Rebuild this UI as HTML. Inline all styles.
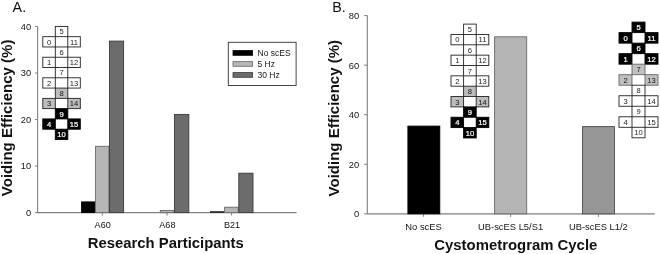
<!DOCTYPE html>
<html><head><meta charset="utf-8"><title>Voiding Efficiency</title>
<style>
html,body{margin:0;padding:0;background:#fff;}
body{width:660px;height:254px;overflow:hidden;}
svg{display:block;font-family:"Liberation Sans",Arial,sans-serif;}
</style></head><body>
<svg width="660" height="254" viewBox="0 0 660 254">
<rect width="660" height="254" fill="#fff"/>
<path d="M37.6 26.5 V212.6 H296.6" fill="none" stroke="#808080" stroke-width="1.1"/>
<path d="M35.0 212.60 H37.6" stroke="#808080" stroke-width="1"/>
<text x="31.2" y="215.90" font-size="9.3" text-anchor="end" fill="#151515">0</text>
<path d="M35.0 166.07 H37.6" stroke="#808080" stroke-width="1"/>
<text x="31.2" y="169.38" font-size="9.3" text-anchor="end" fill="#151515">10</text>
<path d="M35.0 119.55 H37.6" stroke="#808080" stroke-width="1"/>
<text x="31.2" y="122.85" font-size="9.3" text-anchor="end" fill="#151515">20</text>
<path d="M35.0 73.03 H37.6" stroke="#808080" stroke-width="1"/>
<text x="31.2" y="76.33" font-size="9.3" text-anchor="end" fill="#151515">30</text>
<path d="M35.0 26.50 H37.6" stroke="#808080" stroke-width="1"/>
<text x="31.2" y="29.80" font-size="9.3" text-anchor="end" fill="#151515">40</text>
<path d="M102.3 212.6 V215.6" stroke="#808080" stroke-width="1"/>
<text x="102.7" y="228" font-size="9.1" text-anchor="middle" fill="#111">A60</text>
<path d="M167.0 212.6 V215.6" stroke="#808080" stroke-width="1"/>
<text x="167.4" y="228" font-size="9.1" text-anchor="middle" fill="#111">A68</text>
<path d="M231.6 212.6 V215.6" stroke="#808080" stroke-width="1"/>
<text x="232.0" y="228" font-size="9.1" text-anchor="middle" fill="#111">B21</text>
<rect x="81.60" y="201.90" width="13.30" height="10.70" fill="#000" stroke="#000" stroke-width="0.9"/>
<rect x="95.50" y="146.30" width="13.40" height="66.30" fill="#b6b6b6" stroke="#6a6a6a" stroke-width="0.9"/>
<rect x="109.50" y="41.10" width="14.10" height="171.50" fill="#6c6c6c" stroke="#3a3a3a" stroke-width="0.9"/>
<rect x="160.30" y="210.50" width="13.60" height="2.10" fill="#b6b6b6" stroke="#6a6a6a" stroke-width="0.9"/>
<rect x="174.50" y="114.40" width="14.30" height="98.20" fill="#6c6c6c" stroke="#3a3a3a" stroke-width="0.9"/>
<rect x="210.0" y="211.3" width="14.3" height="1.3" fill="#000"/>
<rect x="224.60" y="207.20" width="13.60" height="5.40" fill="#b6b6b6" stroke="#6a6a6a" stroke-width="0.9"/>
<rect x="238.80" y="173.20" width="14.20" height="39.40" fill="#6c6c6c" stroke="#3a3a3a" stroke-width="0.9"/>
<rect x="55.30" y="26.40" width="12.50" height="10.28" fill="#fff" stroke="#222" stroke-width="0.9"/>
<rect x="42.80" y="36.68" width="12.50" height="10.28" fill="#fff" stroke="#222" stroke-width="0.9"/>
<rect x="67.80" y="36.68" width="12.50" height="10.28" fill="#fff" stroke="#222" stroke-width="0.9"/>
<rect x="55.30" y="46.96" width="12.50" height="10.28" fill="#fff" stroke="#222" stroke-width="0.9"/>
<rect x="42.80" y="57.24" width="12.50" height="10.28" fill="#fff" stroke="#222" stroke-width="0.9"/>
<rect x="67.80" y="57.24" width="12.50" height="10.28" fill="#fff" stroke="#222" stroke-width="0.9"/>
<rect x="55.30" y="67.52" width="12.50" height="10.28" fill="#fff" stroke="#222" stroke-width="0.9"/>
<rect x="42.80" y="77.80" width="12.50" height="10.28" fill="#fff" stroke="#222" stroke-width="0.9"/>
<rect x="67.80" y="77.80" width="12.50" height="10.28" fill="#fff" stroke="#222" stroke-width="0.9"/>
<rect x="55.30" y="88.08" width="12.50" height="10.28" fill="#bdbdbd" stroke="#222" stroke-width="0.9"/>
<rect x="42.80" y="98.36" width="12.50" height="10.28" fill="#bdbdbd" stroke="#222" stroke-width="0.9"/>
<rect x="67.80" y="98.36" width="12.50" height="10.28" fill="#bdbdbd" stroke="#222" stroke-width="0.9"/>
<rect x="55.30" y="108.64" width="12.50" height="10.28" fill="#000" stroke="#000" stroke-width="0.9"/>
<rect x="42.80" y="118.92" width="12.50" height="10.28" fill="#000" stroke="#000" stroke-width="0.9"/>
<rect x="67.80" y="118.92" width="12.50" height="10.28" fill="#000" stroke="#000" stroke-width="0.9"/>
<rect x="55.30" y="129.20" width="12.50" height="10.28" fill="#000" stroke="#000" stroke-width="0.9"/>
<text x="61.55" y="34.36" font-size="7.6" fill="#222" text-anchor="middle">5</text>
<text x="49.05" y="44.64" font-size="7.6" fill="#222" text-anchor="middle">0</text>
<text x="74.05" y="44.64" font-size="7.6" fill="#222" text-anchor="middle">11</text>
<text x="61.55" y="54.92" font-size="7.6" fill="#222" text-anchor="middle">6</text>
<text x="49.05" y="65.20" font-size="7.6" fill="#222" text-anchor="middle">1</text>
<text x="74.05" y="65.20" font-size="7.6" fill="#222" text-anchor="middle">12</text>
<text x="61.55" y="75.48" font-size="7.6" fill="#222" text-anchor="middle">7</text>
<text x="49.05" y="85.76" font-size="7.6" fill="#222" text-anchor="middle">2</text>
<text x="74.05" y="85.76" font-size="7.6" fill="#222" text-anchor="middle">13</text>
<text x="61.55" y="96.04" font-size="7.6" fill="#111" text-anchor="middle">8</text>
<text x="49.05" y="106.32" font-size="7.6" fill="#111" text-anchor="middle">3</text>
<text x="74.05" y="106.32" font-size="7.6" fill="#111" text-anchor="middle">14</text>
<text x="61.55" y="116.60" font-size="7.6" fill="#fff" stroke="#fff" stroke-width="0.22" text-anchor="middle">9</text>
<text x="49.05" y="126.88" font-size="7.6" fill="#fff" stroke="#fff" stroke-width="0.22" text-anchor="middle">4</text>
<text x="74.05" y="126.88" font-size="7.6" fill="#fff" stroke="#fff" stroke-width="0.22" text-anchor="middle">15</text>
<text x="61.55" y="137.16" font-size="7.6" fill="#fff" stroke="#fff" stroke-width="0.22" text-anchor="middle">10</text>
<rect x="228.3" y="42.3" width="67.8" height="43.2" fill="#fff" stroke="#333" stroke-width="0.9"/>
<rect x="233" y="50.60" width="19.6" height="4.7" fill="#000" stroke="#000" stroke-width="0.8"/>
<text x="257.5" y="56.10" font-size="8.5" fill="#151515">No scES</text>
<rect x="233" y="61.60" width="19.6" height="4.7" fill="#b6b6b6" stroke="#6a6a6a" stroke-width="0.8"/>
<text x="257.5" y="67.10" font-size="8.5" fill="#151515">5 Hz</text>
<rect x="233" y="72.60" width="19.6" height="4.7" fill="#6c6c6c" stroke="#3a3a3a" stroke-width="0.8"/>
<text x="257.5" y="78.10" font-size="8.5" fill="#151515">30 Hz</text>
<text x="12.6" y="11.8" font-size="14.3" fill="#111">A.</text>
<text transform="translate(12.1 196.2) rotate(-90)" textLength="156.6" lengthAdjust="spacingAndGlyphs" font-size="14.8" font-weight="bold" fill="#111">Voiding Efficiency (%)</text>
<text x="87.8" y="248.3" font-size="14.85" font-weight="bold" fill="#111">Research Participants</text>
<path d="M367.3 15.6 V213.85 H654.8" fill="none" stroke="#808080" stroke-width="1.1"/>
<path d="M364.1 213.85 H367.3" stroke="#808080" stroke-width="1"/>
<text x="359.3" y="217.25" font-size="9.4" text-anchor="end" fill="#151515">0</text>
<path d="M364.1 164.29 H367.3" stroke="#808080" stroke-width="1"/>
<text x="359.3" y="167.69" font-size="9.4" text-anchor="end" fill="#151515">20</text>
<path d="M364.1 114.72 H367.3" stroke="#808080" stroke-width="1"/>
<text x="359.3" y="118.12" font-size="9.4" text-anchor="end" fill="#151515">40</text>
<path d="M364.1 65.16 H367.3" stroke="#808080" stroke-width="1"/>
<text x="359.3" y="68.56" font-size="9.4" text-anchor="end" fill="#151515">60</text>
<path d="M364.1 15.60 H367.3" stroke="#808080" stroke-width="1"/>
<text x="359.3" y="19.00" font-size="9.4" text-anchor="end" fill="#151515">80</text>
<path d="M423.6 213.85 V216.85" stroke="#808080" stroke-width="1"/>
<text x="423.6" y="230.3" font-size="9.4" text-anchor="middle" fill="#151515">No scES</text>
<path d="M510.6 213.85 V216.85" stroke="#808080" stroke-width="1"/>
<text x="510.6" y="230.3" font-size="9.4" text-anchor="middle" fill="#151515">UB-scES L5/S1</text>
<path d="M598.4 213.85 V216.85" stroke="#808080" stroke-width="1"/>
<text x="598.4" y="230.3" font-size="9.4" text-anchor="middle" fill="#151515">UB-scES L1/2</text>
<rect x="407.90" y="126.10" width="31.90" height="87.75" fill="#000" stroke="#000" stroke-width="0.9"/>
<rect x="494.60" y="36.80" width="32.10" height="177.05" fill="#b4b4b4" stroke="#686868" stroke-width="0.9"/>
<rect x="582.50" y="126.60" width="32.00" height="87.25" fill="#969696" stroke="#4c4c4c" stroke-width="0.9"/>
<rect x="463.60" y="24.10" width="12.60" height="10.35" fill="#fff" stroke="#222" stroke-width="0.9"/>
<rect x="451.00" y="34.45" width="12.60" height="10.35" fill="#fff" stroke="#222" stroke-width="0.9"/>
<rect x="476.20" y="34.45" width="12.60" height="10.35" fill="#fff" stroke="#222" stroke-width="0.9"/>
<rect x="463.60" y="44.80" width="12.60" height="10.35" fill="#fff" stroke="#222" stroke-width="0.9"/>
<rect x="451.00" y="55.15" width="12.60" height="10.35" fill="#fff" stroke="#222" stroke-width="0.9"/>
<rect x="476.20" y="55.15" width="12.60" height="10.35" fill="#fff" stroke="#222" stroke-width="0.9"/>
<rect x="463.60" y="65.50" width="12.60" height="10.35" fill="#fff" stroke="#222" stroke-width="0.9"/>
<rect x="451.00" y="75.85" width="12.60" height="10.35" fill="#fff" stroke="#222" stroke-width="0.9"/>
<rect x="476.20" y="75.85" width="12.60" height="10.35" fill="#fff" stroke="#222" stroke-width="0.9"/>
<rect x="463.60" y="86.20" width="12.60" height="10.35" fill="#bdbdbd" stroke="#222" stroke-width="0.9"/>
<rect x="451.00" y="96.55" width="12.60" height="10.35" fill="#bdbdbd" stroke="#222" stroke-width="0.9"/>
<rect x="476.20" y="96.55" width="12.60" height="10.35" fill="#bdbdbd" stroke="#222" stroke-width="0.9"/>
<rect x="463.60" y="106.90" width="12.60" height="10.35" fill="#000" stroke="#000" stroke-width="0.9"/>
<rect x="451.00" y="117.25" width="12.60" height="10.35" fill="#000" stroke="#000" stroke-width="0.9"/>
<rect x="476.20" y="117.25" width="12.60" height="10.35" fill="#000" stroke="#000" stroke-width="0.9"/>
<rect x="463.60" y="127.60" width="12.60" height="10.35" fill="#000" stroke="#000" stroke-width="0.9"/>
<text x="469.90" y="32.10" font-size="7.6" fill="#222" text-anchor="middle">5</text>
<text x="457.30" y="42.45" font-size="7.6" fill="#222" text-anchor="middle">0</text>
<text x="482.50" y="42.45" font-size="7.6" fill="#222" text-anchor="middle">11</text>
<text x="469.90" y="52.80" font-size="7.6" fill="#222" text-anchor="middle">6</text>
<text x="457.30" y="63.15" font-size="7.6" fill="#222" text-anchor="middle">1</text>
<text x="482.50" y="63.15" font-size="7.6" fill="#222" text-anchor="middle">12</text>
<text x="469.90" y="73.50" font-size="7.6" fill="#222" text-anchor="middle">7</text>
<text x="457.30" y="83.85" font-size="7.6" fill="#222" text-anchor="middle">2</text>
<text x="482.50" y="83.85" font-size="7.6" fill="#222" text-anchor="middle">13</text>
<text x="469.90" y="94.20" font-size="7.6" fill="#111" text-anchor="middle">8</text>
<text x="457.30" y="104.55" font-size="7.6" fill="#111" text-anchor="middle">3</text>
<text x="482.50" y="104.55" font-size="7.6" fill="#111" text-anchor="middle">14</text>
<text x="469.90" y="114.90" font-size="7.6" fill="#fff" stroke="#fff" stroke-width="0.22" text-anchor="middle">9</text>
<text x="457.30" y="125.25" font-size="7.6" fill="#fff" stroke="#fff" stroke-width="0.22" text-anchor="middle">4</text>
<text x="482.50" y="125.25" font-size="7.6" fill="#fff" stroke="#fff" stroke-width="0.22" text-anchor="middle">15</text>
<text x="469.90" y="135.60" font-size="7.6" fill="#fff" stroke="#fff" stroke-width="0.22" text-anchor="middle">10</text>
<rect x="632.00" y="22.10" width="13.00" height="10.52" fill="#000" stroke="#000" stroke-width="0.9"/>
<rect x="619.00" y="32.62" width="13.00" height="10.52" fill="#000" stroke="#000" stroke-width="0.9"/>
<rect x="645.00" y="32.62" width="13.00" height="10.52" fill="#000" stroke="#000" stroke-width="0.9"/>
<rect x="632.00" y="43.14" width="13.00" height="10.52" fill="#000" stroke="#000" stroke-width="0.9"/>
<rect x="619.00" y="53.66" width="13.00" height="10.52" fill="#000" stroke="#000" stroke-width="0.9"/>
<rect x="645.00" y="53.66" width="13.00" height="10.52" fill="#000" stroke="#000" stroke-width="0.9"/>
<rect x="632.00" y="64.18" width="13.00" height="10.52" fill="#c0c0c0" stroke="#666" stroke-width="0.9"/>
<rect x="619.00" y="74.70" width="13.00" height="10.52" fill="#c0c0c0" stroke="#666" stroke-width="0.9"/>
<rect x="645.00" y="74.70" width="13.00" height="10.52" fill="#c0c0c0" stroke="#666" stroke-width="0.9"/>
<rect x="632.00" y="85.22" width="13.00" height="10.52" fill="#fff" stroke="#222" stroke-width="0.9"/>
<rect x="619.00" y="95.74" width="13.00" height="10.52" fill="#fff" stroke="#222" stroke-width="0.9"/>
<rect x="645.00" y="95.74" width="13.00" height="10.52" fill="#fff" stroke="#222" stroke-width="0.9"/>
<rect x="632.00" y="106.26" width="13.00" height="10.52" fill="#fff" stroke="#222" stroke-width="0.9"/>
<rect x="619.00" y="116.78" width="13.00" height="10.52" fill="#fff" stroke="#222" stroke-width="0.9"/>
<rect x="645.00" y="116.78" width="13.00" height="10.52" fill="#fff" stroke="#222" stroke-width="0.9"/>
<rect x="632.00" y="127.30" width="13.00" height="10.52" fill="#fff" stroke="#222" stroke-width="0.9"/>
<text x="638.50" y="30.18" font-size="7.6" fill="#fff" stroke="#fff" stroke-width="0.22" text-anchor="middle">5</text>
<text x="625.50" y="40.70" font-size="7.6" fill="#fff" stroke="#fff" stroke-width="0.22" text-anchor="middle">0</text>
<text x="651.50" y="40.70" font-size="7.6" fill="#fff" stroke="#fff" stroke-width="0.22" text-anchor="middle">11</text>
<text x="638.50" y="51.22" font-size="7.6" fill="#fff" stroke="#fff" stroke-width="0.22" text-anchor="middle">6</text>
<text x="625.50" y="61.74" font-size="7.6" fill="#fff" stroke="#fff" stroke-width="0.22" text-anchor="middle">1</text>
<text x="651.50" y="61.74" font-size="7.6" fill="#fff" stroke="#fff" stroke-width="0.22" text-anchor="middle">12</text>
<text x="638.50" y="72.26" font-size="7.6" fill="#111" text-anchor="middle">7</text>
<text x="625.50" y="82.78" font-size="7.6" fill="#111" text-anchor="middle">2</text>
<text x="651.50" y="82.78" font-size="7.6" fill="#111" text-anchor="middle">13</text>
<text x="638.50" y="93.30" font-size="7.6" fill="#222" text-anchor="middle">8</text>
<text x="625.50" y="103.82" font-size="7.6" fill="#222" text-anchor="middle">3</text>
<text x="651.50" y="103.82" font-size="7.6" fill="#222" text-anchor="middle">14</text>
<text x="638.50" y="114.34" font-size="7.6" fill="#222" text-anchor="middle">9</text>
<text x="625.50" y="124.86" font-size="7.6" fill="#222" text-anchor="middle">4</text>
<text x="651.50" y="124.86" font-size="7.6" fill="#222" text-anchor="middle">15</text>
<text x="638.50" y="135.38" font-size="7.6" fill="#222" text-anchor="middle">10</text>
<text x="332.2" y="11.8" font-size="14.3" fill="#111">B.</text>
<text transform="translate(338.8 196.4) rotate(-90)" textLength="156.4" lengthAdjust="spacingAndGlyphs" font-size="14.8" font-weight="bold" fill="#111">Voiding Efficiency (%)</text>
<text x="434.3" y="249.7" font-size="14.9" font-weight="bold" fill="#111">Cystometrogram Cycle</text>
</svg>
</body></html>
